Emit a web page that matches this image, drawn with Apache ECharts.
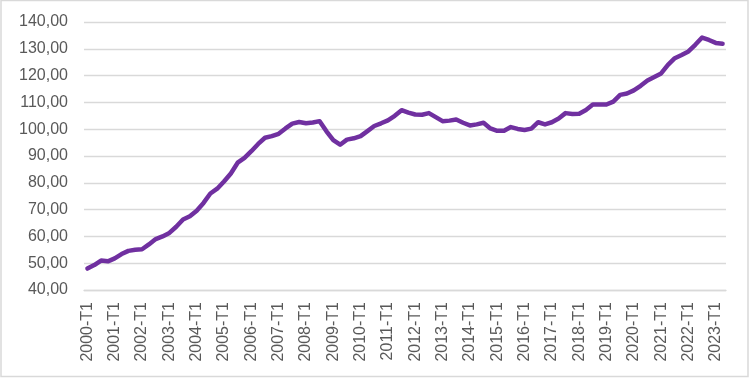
<!DOCTYPE html>
<html>
<head>
<meta charset="utf-8">
<script src="https://cdn.jsdelivr.net/npm/echarts@6/dist/echarts.min.js"></script>
<style>
  html, body { margin: 0; padding: 0; background: #fff; }
  #chart { width: 750px; height: 378px; }
</style>
</head>
<body>
<div id="chart"></div>
<script>
// quarterly index, 2000-T1 .. 2023-T2
const years = [2000, 2001, 2002, 2003, 2004, 2005, 2006, 2007, 2008, 2009, 2010, 2011,
  2012, 2013, 2014, 2015, 2016, 2017, 2018, 2019, 2020, 2021, 2022, 2023];
const quarters = ["T1", "T2", "T3", "T4"];
const lastQuarters = ["T1", "T2"];

const indexValues = [
  48.0, 49.3, 51.0, 50.7, 51.8, 53.4, 54.6, 55.0, 55.2, 57.0,
  59.0, 60.0, 61.3, 63.6, 66.3, 67.5, 69.6, 72.5, 76.0, 77.8,
  80.5, 83.5, 87.5, 89.3, 91.8, 94.5, 96.8, 97.4, 98.3, 100.3,
  102.1, 102.7, 102.2, 102.5, 103.0, 99.2, 95.9, 94.2, 96.1, 96.6,
  97.4, 99.3, 101.2, 102.2, 103.3, 105.0, 107.1, 106.2, 105.5, 105.4,
  106.0, 104.5, 103.0, 103.2, 103.6, 102.4, 101.4, 101.8, 102.4, 100.3,
  99.4, 99.4, 100.8, 100.1, 99.7, 100.2, 102.6, 101.8, 102.6, 104.0,
  106.0, 105.7, 105.8, 107.2, 109.2, 109.2, 109.2, 110.3, 112.8, 113.3,
  114.5, 116.2, 118.2, 119.5, 120.8, 124.0, 126.5, 127.7, 129.0, 131.5,
  134.2, 133.3, 132.2, 131.9
];

const categories = [];
years.forEach((y, i) => {
  const qs = i === years.length - 1 ? lastQuarters : quarters;
  qs.forEach((q) => categories.push(y + "-" + q));
});

const textColor = "#595959";
const gridColor = "#d9d9d9";
const fontFamily = "'Liberation Sans', Arial, sans-serif";

const chart = echarts.init(document.getElementById("chart"), null, { renderer: "canvas" });
chart.setOption({
  animation: false,
  grid: { left: 84, right: 24, top: 22, bottom: 88 },
  graphic: [
    {
      type: "rect",
      shape: { x: 1, y: 0.5, width: 747, height: 376 },
      style: { fill: "none", stroke: gridColor, lineWidth: 1.5 },
      silent: true,
    },
  ],
  xAxis: {
    type: "category",
    data: categories,
    boundaryGap: true,
    axisLine: { show: true, lineStyle: { color: gridColor, width: 1.3 } },
    axisTick: { show: false },
    axisLabel: {
      interval: 3,
      rotate: 90,
      margin: 12,
      color: textColor,
      fontSize: 16,
      fontFamily: fontFamily,
    },
    splitLine: { show: false },
  },
  yAxis: {
    type: "value",
    min: 40,
    max: 140,
    interval: 10,
    axisLine: { show: false },
    axisTick: { show: false },
    axisLabel: {
      margin: 16,
      color: textColor,
      fontSize: 16,
      fontFamily: fontFamily,
      formatter: (v) => v.toFixed(2).replace(".", ","),
    },
    splitLine: { lineStyle: { color: gridColor, width: 1.3 } },
  },
  series: [
    {
      type: "line",
      data: indexValues,
      showSymbol: false,
      smooth: false,
      lineStyle: { color: "#7030a0", width: 4.5, join: "round", cap: "round" },
    },
  ],
});
</script>
</body>
</html>
